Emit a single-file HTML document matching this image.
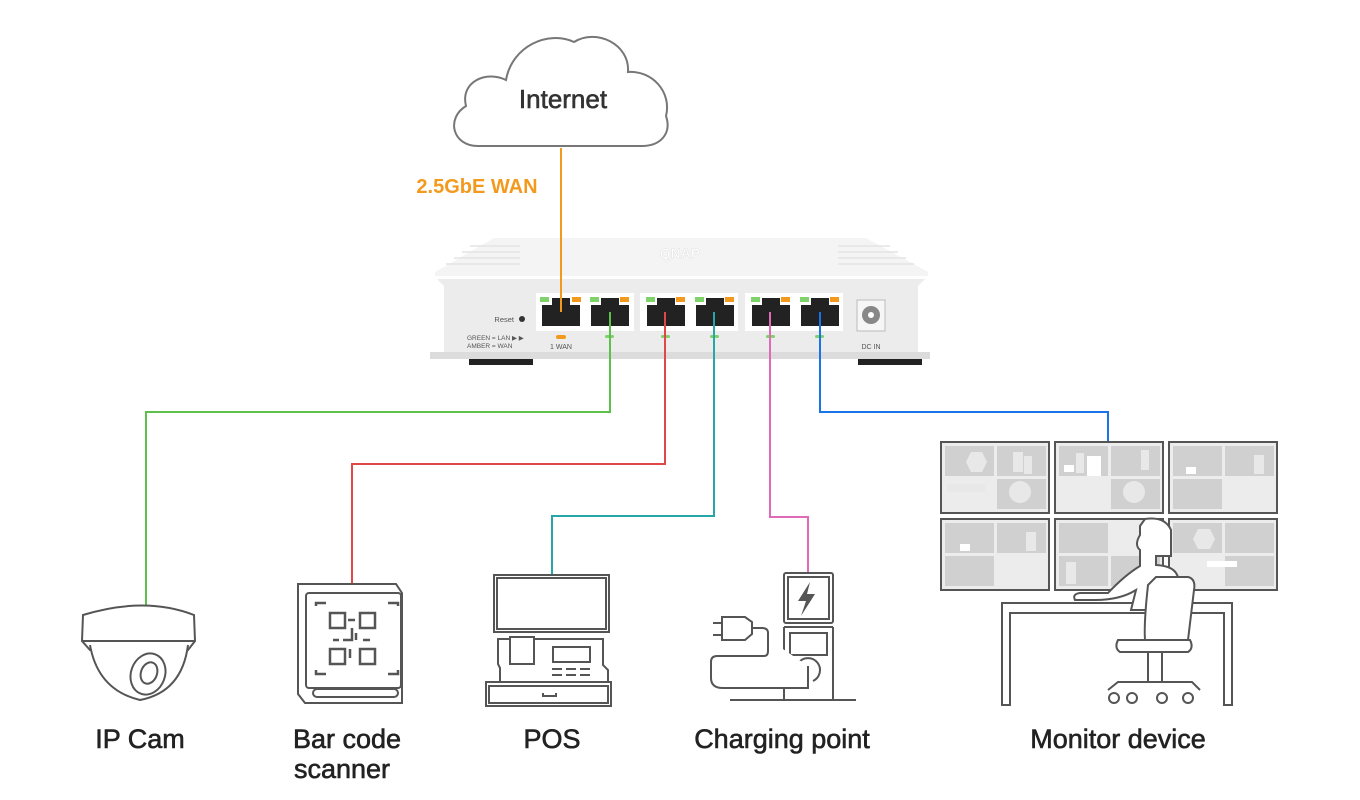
<!DOCTYPE html>
<html><head><meta charset="utf-8"><style>
html,body{margin:0;padding:0;background:#fff;width:1360px;height:800px;overflow:hidden}
svg{display:block}
text{font-family:"Liberation Sans",sans-serif}
</style></head><body>
<svg width="1360" height="800" viewBox="0 0 1360 800" xmlns="http://www.w3.org/2000/svg">
<!-- cloud -->
<path d="M478,146 C452,146 446,118 466,106 C460,82 486,70 506,80 C512,46 548,30 574,42 C596,28 630,44 628,72 C652,70 672,92 666,116 C672,134 660,146 642,146 Z" fill="#fff" stroke="#777" stroke-width="2"/>
<text x="563" y="108" font-size="26" text-anchor="middle" fill="#333" stroke="#333" stroke-width="0.6">Internet</text>
<text x="477" y="193" font-size="20" font-weight="bold" text-anchor="middle" fill="#F39A1E">2.5GbE WAN</text>
<!-- router -->
<path d="M494,238 L866,238 L928,272 L928,276 L435,276 L435,272 Z" fill="#f4f4f4"/>
<g stroke="#e4e4e4" stroke-width="1.5">
<line x1="470" y1="246" x2="520" y2="246"/><line x1="462" y1="252" x2="520" y2="252"/><line x1="454" y1="258" x2="520" y2="258"/><line x1="446" y1="264" x2="520" y2="264"/>
<line x1="838" y1="246" x2="890" y2="246"/><line x1="838" y1="252" x2="898" y2="252"/><line x1="838" y1="258" x2="906" y2="258"/><line x1="838" y1="264" x2="914" y2="264"/>
</g>
<text x="680" y="258" font-size="14" font-weight="bold" text-anchor="middle" fill="#fff" stroke="#e0e0e0" stroke-width="0.5">QNAP</text>
<path d="M437,279 L925,279 L918,286 L918,352 L444,352 L444,286 Z" fill="#ececec"/>
<rect x="430" y="352" width="500" height="7" fill="#dcdcdc"/>
<rect x="469" y="359" width="64" height="6" fill="#222"/>
<rect x="858" y="359" width="64" height="6" fill="#222"/>
<text x="514" y="322" font-size="7.5" text-anchor="end" fill="#555">Reset</text>
<circle cx="522" cy="319" r="3" fill="#333"/>
<text x="467" y="340" font-size="6.5" fill="#555">GREEN = LAN ▶ ▶</text>
<text x="467" y="348" font-size="6.5" fill="#555">AMBER = WAN</text>
<rect x="536" y="293" width="98" height="38" fill="#fff"/>
<rect x="640" y="293" width="98" height="38" fill="#fff"/>
<rect x="745" y="293" width="98" height="38" fill="#fff"/>
<g fill="#222">
<path d="M542,305 L552,305 L552,298 L570,298 L570,305 L580,305 L580,326 L542,326Z"/>
<path d="M591,305 L601,305 L601,298 L619,298 L619,305 L629,305 L629,326 L591,326Z"/>
<path d="M647,305 L657,305 L657,298 L675,298 L675,305 L685,305 L685,326 L647,326Z"/>
<path d="M696,305 L706,305 L706,298 L724,298 L724,305 L734,305 L734,326 L696,326Z"/>
<path d="M752,305 L762,305 L762,298 L780,298 L780,305 L790,305 L790,326 L752,326Z"/>
<path d="M801,305 L811,305 L811,298 L829,298 L829,305 L839,305 L839,326 L801,326Z"/>
</g>
<g fill="#7ed36b">
<rect x="540" y="297" width="9" height="5"/><rect x="590" y="297" width="9" height="5"/><rect x="646" y="297" width="9" height="5"/><rect x="695" y="297" width="9" height="5"/><rect x="751" y="297" width="9" height="5"/><rect x="800" y="297" width="9" height="5"/>
<rect x="605" y="335" width="9" height="3" rx="1.5"/><rect x="661" y="335" width="9" height="3" rx="1.5"/><rect x="710" y="335" width="9" height="3" rx="1.5"/><rect x="766" y="335" width="9" height="3" rx="1.5"/><rect x="815" y="335" width="9" height="3" rx="1.5"/>
</g>
<g fill="#F39A1E">
<rect x="572" y="297" width="9" height="5"/><rect x="620" y="297" width="9" height="5"/><rect x="676" y="297" width="9" height="5"/><rect x="725" y="297" width="9" height="5"/><rect x="781" y="297" width="9" height="5"/><rect x="830" y="297" width="9" height="5"/>
<rect x="556" y="335" width="10" height="4" rx="2"/>
</g>
<text x="561" y="349" font-size="7" text-anchor="middle" fill="#555">1 WAN</text>
<rect x="857" y="300" width="28" height="31" fill="#f6f6f6" stroke="#bbb"/>
<circle cx="871" cy="315" r="9" fill="#888"/><circle cx="871" cy="315" r="3" fill="#fff"/>
<text x="871" y="349" font-size="7" text-anchor="middle" fill="#555">DC IN</text>
<!-- connectors -->
<line x1="561" y1="148" x2="561" y2="312" stroke="#F39A1E" stroke-width="2"/>
<g fill="none" stroke-width="2">
<polyline points="610,312 610,412 146,412 146,605" stroke="#5dc04a"/>
<polyline points="665,312 665,464 352,464 352,585" stroke="#e04848"/>
<polyline points="714,312 714,516 552,516 552,575" stroke="#26a6a6"/>
<polyline points="770,312 770,517 808,517 808,573" stroke="#e06ab8"/>
<polyline points="820,312 820,412 1108,412 1108,442" stroke="#1a73e8"/>
</g>
<!-- IP cam -->
<g fill="#fff" stroke="#555" stroke-width="2">
<path d="M83,615 Q145,596 194,615 L195,641 L188,650 L90,650 L82,641 Z"/>
<line x1="83" y1="641" x2="195" y2="641"/>
<path d="M90,645 Q98,690 140,700 Q182,692 188,645"/>
<ellipse cx="148" cy="674" rx="17" ry="21" transform="rotate(20 148 674)"/>
<ellipse cx="149" cy="673" rx="8" ry="11" transform="rotate(20 149 673)"/>
</g>
<!-- barcode scanner -->
<g fill="#fff" stroke="#555" stroke-width="2">
<path d="M298,584 L396,584 L402,593 L402,703 L305,703 L298,694 Z"/>
<rect x="306" y="593" width="95" height="95" rx="3"/>
<rect x="313" y="689" width="85" height="8" rx="4"/>
</g>
<g fill="none" stroke="#555" stroke-width="2.5">
<polyline points="316,606 316,603 326,603"/><polyline points="388,603 398,603 398,606"/><polyline points="316,670 316,674 326,674"/><polyline points="388,674 398,674 398,670"/>
<rect x="330" y="613" width="15" height="15"/><rect x="360" y="613" width="15" height="15"/><rect x="330" y="649" width="15" height="15"/><rect x="360" y="649" width="15" height="15"/>
<path d="M348,620 L355,620 M352,628 L352,640 L343,640 M339,640 L333,640 M363,640 L370,640 M350,649 L350,658 M356,633 L356,640"/>
</g>
<!-- POS -->
<g fill="#fff" stroke="#555" stroke-width="2">
<rect x="494" y="575" width="115" height="57"/>
<rect x="497" y="578" width="109" height="51"/>
<path d="M498,639 L603,639 L603,665 L608,670 L608,682 L500,682 L500,668 L498,664 Z"/>
<rect x="486" y="682" width="125" height="24"/>
<rect x="489" y="686" width="119" height="17"/>
<rect x="510" y="637" width="24" height="27"/>
<rect x="553" y="647" width="37" height="15"/>
<path d="M552,669 h10 M566,669 h10 M580,669 h10 M552,675 h10 M566,675 h10 M580,675 h10 M543,693 v3 h13 v-3"/>
</g>
<!-- Charging -->
<g fill="#fff" stroke="#555" stroke-width="2">
<rect x="784" y="573" width="49" height="50" rx="2"/>
<rect x="788" y="577" width="41" height="42"/>
<path d="M784,627 L833,627 M784,627 L784,700 M833,627 L833,700 M730,700 L856,700"/>
<rect x="790" y="633" width="37" height="22"/>
<path d="M803,681 A12,12 0 1 1 813,681"/>
<path d="M808,666 L808,688 L723,688 Q711,688 711,678 L711,662 Q711,656 717,656 L764,656 Q768,656 768,651 L768,633 Q768,628 762,628 L752,628"/>
<path d="M722,617 L745,617 L752,622 L752,634 L745,640 L722,640 Z"/>
<path d="M713,623 h9 M713,635 h9"/>
</g>
<path d="M810,582 L798,601 L806,601 L801,616 L815,594 L807,594 Z" fill="#555"/>
<!-- Monitors -->
<g>
<g stroke="#555" stroke-width="2" fill="#ececec">
<rect x="941" y="442" width="108" height="71"/><rect x="1055" y="442" width="108" height="71"/><rect x="1169" y="442" width="108" height="71"/>
<rect x="941" y="519" width="108" height="71"/><rect x="1055" y="519" width="108" height="71"/><rect x="1169" y="519" width="108" height="71"/>
</g>
<g fill="#d0d0d0">
<rect x="945" y="446" width="49" height="30"/><rect x="997" y="446" width="49" height="30"/><rect x="997" y="479" width="49" height="30"/>
<rect x="1059" y="446" width="49" height="30"/><rect x="1111" y="446" width="49" height="30"/><rect x="1111" y="479" width="49" height="30"/>
<rect x="1173" y="446" width="49" height="30"/><rect x="1225" y="446" width="49" height="30"/><rect x="1173" y="479" width="49" height="30"/>
<rect x="945" y="523" width="49" height="30"/><rect x="997" y="523" width="49" height="30"/><rect x="945" y="556" width="49" height="30"/>
<rect x="1059" y="523" width="49" height="30"/><rect x="1059" y="556" width="49" height="30"/><rect x="1111" y="556" width="49" height="30"/>
<rect x="1173" y="523" width="49" height="30"/><rect x="1225" y="523" width="49" height="30"/><rect x="1225" y="556" width="49" height="30"/>
</g>
<g fill="#e8e8e8">
<rect x="1013" y="452" width="10" height="20"/><rect x="1024" y="456" width="8" height="18"/><rect x="1076" y="453" width="8" height="20"/><rect x="1141" y="450" width="8" height="20"/>
<rect x="947" y="484" width="38" height="8"/><circle cx="1020" cy="492" r="11"/><circle cx="1134" cy="492" r="11"/>
<rect x="1254" y="455" width="10" height="19"/><rect x="1026" y="532" width="10" height="19"/><rect x="1066" y="562" width="10" height="22"/>
<polygon points="971,452 982,452 987,462 982,472 971,472 966,462"/><polygon points="1198,529 1210,529 1215,539 1210,549 1198,549 1193,539"/>
</g>
<g fill="#fff">
<rect x="1087" y="456" width="14" height="20"/><rect x="1064" y="465" width="10" height="7"/><rect x="1186" y="467" width="10" height="7"/><rect x="960" y="544" width="10" height="7"/><rect x="1207" y="561" width="30" height="6"/>
</g>
</g>
<!-- desk -->
<g fill="#fff" stroke="#555" stroke-width="2">
<path d="M1002,603 L1232,603 L1232,705 L1224,705 L1224,613 L1010,613 L1010,705 L1002,705 Z"/>
<path d="M1145,519 Q1165,516 1171,530 L1171,556 L1156,556 L1156,565 Q1176,566 1178,578 L1178,610 L1131,610 L1136,590 Q1120,600 1095,600 L1075,600 Q1072,594 1080,593 L1108,593 Q1125,575 1140,566 L1140,550 Q1134,545 1140,535 L1140,526 Z"/>
<path d="M1156,577 L1188,577 Q1196,579 1194,590 L1188,640 Q1186,650 1170,650 L1147,650 Q1142,640 1148,585 Z"/>
<path d="M1118,640 L1190,640 Q1194,648 1188,652 L1120,652 Q1114,648 1118,640 Z"/>
<rect x="1148" y="652" width="14" height="30"/>
<path d="M1108,690 L1118,682 L1192,682 L1200,690"/>
<circle cx="1114" cy="698" r="5"/><circle cx="1132" cy="698" r="5"/><circle cx="1162" cy="698" r="5"/><circle cx="1188" cy="698" r="5"/>
</g>
<!-- labels -->
<g font-size="27" fill="#222" stroke="#222" stroke-width="0.6" text-anchor="middle">
<text x="140" y="748">IP Cam</text>
<text x="347" y="748">Bar code</text>
<text x="342" y="778">scanner</text>
<text x="552" y="748">POS</text>
<text x="782" y="748">Charging point</text>
<text x="1118" y="748">Monitor device</text>
</g>
</svg>
</body></html>
